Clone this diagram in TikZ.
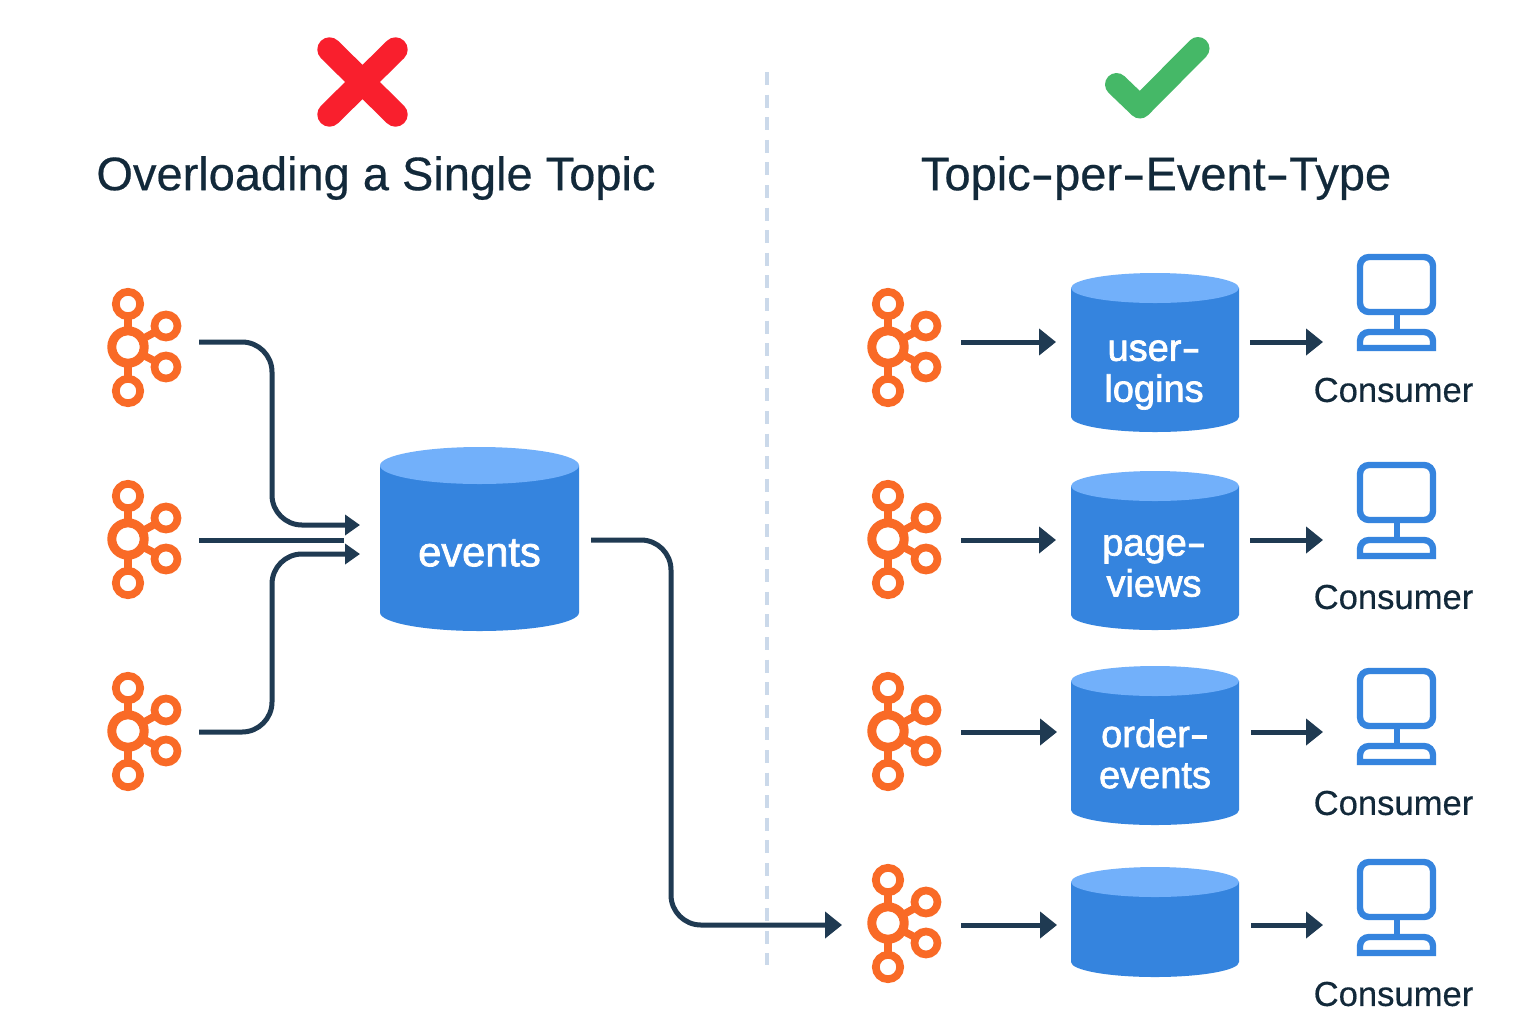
\documentclass[tikz,border=0pt]{standalone}
\usepackage{fontspec}
\usepackage{graphicx}
\setmainfont{Liberation Sans}
\newfontfamily\titlefont[FakeBold=0.4]{Liberation Sans}
\newfontfamily\labelfont[FakeBold=0.4]{Liberation Sans}
\newfontfamily\cylfont[FakeBold=1.8]{Liberation Sans}
\usetikzlibrary{arrows.meta}
\definecolor{korange}{HTML}{F96A26}
\definecolor{cylbody}{HTML}{3584DE}
\definecolor{cyltop}{HTML}{72B0FA}
\definecolor{flowc}{HTML}{1F3A52}
\definecolor{inkc}{HTML}{12293A}
\definecolor{dividerc}{HTML}{CBD9EA}
\definecolor{crossc}{HTML}{F91F2D}
\definecolor{checkc}{HTML}{45B867}
\newcommand{\wh}{\scalebox{1.5}[1]{-}}
\tikzset{
  x=0.5pt,y=-0.5pt,
  iconbox/.style={minimum width=37pt,minimum height=58pt,inner sep=0pt,outer sep=0pt},
  monbox/.style={minimum width=39.5pt,minimum height=48.5pt,inner sep=0pt,outer sep=0pt},
  cyllabel/.style={text=white,font=\cylfont\fontsize{19}{20.5}\selectfont,align=center,inner sep=0pt,outer sep=0pt},
  title/.style={text=inkc,font=\titlefont\fontsize{23.5}{26}\selectfont,inner sep=0pt},
  consumerlabel/.style={text=inkc,font=\labelfont\fontsize{17.3}{18}\selectfont,inner sep=0pt},
  conn/.style={draw=flowc,line width=2.5pt},
  smallflow/.style={conn,-{Triangle[length=7.5pt,width=10pt]}},
  bigflow/.style={conn,-{Triangle[length=8.5pt,width=13pt]}},
  kring/.style={draw=korange,line width=3.85pt,fill=none},
  kbar/.style={draw=korange,line width=3.8pt},
}
% icon centre x, icon centre y, node name, row y
\newcommand{\kafkaicon}[4]{%
  \begin{scope}[shift={(#1,#2)}]
    \draw[kbar] (0,0) -- (0,-43) (0,0) -- (0,44) (0,0) -- (38,-21) (0,0) -- (38,20);
    \fill[white] (0,0) circle[radius=12];
    \draw[draw=korange,line width=4.5pt] (0,0) circle[radius=16.2];
    \foreach \px/\py/\r in {0/-43/12.2,0/44/12.2,38/-21/11.5,38/20/11.5}{
      \fill[white] (\px,\py) circle[radius=9];
      \draw[kring] (\px,\py) circle[radius=\r];
    }
  \end{scope}
  \node[iconbox] (#3) at ({#1+17},#4) {};
}
% centre x, half width, top y, ry, bottom y
\newcommand{\cyl}[5]{%
  \fill[cylbody] ({#1-#2},{#3+#4}) -- ({#1-#2},{#5-#4})
    arc[start angle=180,end angle=360,x radius=#2,y radius=-#4]
    -- ({#1+#2},{#3+#4}) -- cycle;
  \fill[cyltop] (#1,{#3+#4}) ellipse[x radius=#2,y radius=#4];
}
% name, left x, top y
\newcommand{\monitor}[3]{%
  \begin{scope}[shift={(#2,#3)}]
    \draw[draw=cylbody,line width=3.2pt,rounded corners=4.5pt] (3,3) rectangle (76,58);
    \draw[draw=cylbody,line width=3pt] (39.5,61) -- (39.5,76);
    \draw[draw=cylbody,line width=3.2pt,line join=miter]
      (3,94) -- (3,87) arc[start angle=180,end angle=90,x radius=9,y radius=-9]
      -- (67,78) arc[start angle=90,end angle=0,x radius=9,y radius=-9] -- (76,94) -- cycle;
  \end{scope}
  \node[monbox] (#1) at ({#2+39.5},{#3+48.5}) {};
}
\begin{document}
\begin{tikzpicture}
\useasboundingbox (0,0) rectangle (1536,1024);
\fill[white] (0,0) rectangle (1536,1024);

% divider
\coordinate (divtop) at (767,72);
\coordinate (divbot) at (767,965);
\draw[dividerc,line width=1.8pt,dash pattern=on 6.5pt off 4.8pt] (divtop) -- (divbot);

% header marks
\draw[crossc,line width=12.2pt,line cap=round]
  (329.5,49.5) -- (395.5,114.5) (395.5,49.5) -- (329.5,114.5);
\draw[checkc,line width=11.5pt,line cap=round,line join=round]
  (1116.5,84.5) -- (1140,107) -- (1198,48.5);

\node[title] (tleft) at (376,178) {Overloading a Single Topic};
\node[title] (tright) at (1156,178) {Topic\wh per\wh Event\wh Type};

% left: producers
\kafkaicon{128}{347}{k1}{342}
\kafkaicon{128}{539}{k2}{540}
\kafkaicon{128}{731}{k3}{732}

% events topic
\cyl{479.5}{99.5}{447}{18.5}{631}
\node[cyllabel,font=\cylfont\fontsize{20.8}{22}\selectfont,minimum width=99.5pt] (ev) at (479.5,553) {events};

% right: producers
\kafkaicon{888}{347}{k4}{342}
\kafkaicon{888}{539}{k5}{540}
\kafkaicon{888}{731}{k6}{732}
\kafkaicon{888}{923}{k7}{925}

% right: topics
\cyl{1155}{84}{273}{15}{432}
\node[cyllabel,minimum width=84pt] (c1) at (1154,375) {user\wh\\logins};
\cyl{1155}{84}{471}{15}{630}
\node[cyllabel,minimum width=84pt] (c2) at (1154,566) {page\wh\\views};
\cyl{1155}{84}{666}{15}{825}
\node[cyllabel,minimum width=84pt] (c3) at (1155,754) {order\wh\\events};
\cyl{1155}{84}{867}{15}{977}
\node[cyllabel,minimum width=84pt] (c4) at (1155,925) {};

% consumers
\monitor{m1}{1357}{254}
\monitor{m2}{1357}{462}
\monitor{m3}{1357}{668}
\monitor{m4}{1357}{859}
\node[consumerlabel] (l1) at (1393.5,390) {Consumer};
\node[consumerlabel] (l2) at (1393.5,597) {Consumer};
\node[consumerlabel] (l3) at (1393.5,803) {Consumer};
\node[consumerlabel] (l4) at (1393.5,994) {Consumer};

% left connectors
\draw[smallflow,rounded corners=15pt,shorten <=8.5pt,shorten >=10pt]
  (k1.east) -- (272,342) -- (272,525) -- ([yshift=14pt]ev.west);
\draw[conn,shorten <=8.5pt,shorten >=18pt] (k2.east) -- ([yshift=6.5pt]ev.west);
\draw[smallflow,rounded corners=15pt,shorten <=8.5pt,shorten >=10pt]
  (k3.east) -- (272,732) -- (272,554) -- ([yshift=-0.5pt]ev.west);
\draw[bigflow,rounded corners=15pt,shorten <=6pt,shorten >=13pt]
  ([yshift=6.5pt]ev.east) -- (671,540) -- (671,925) -- (k7.west);

% right connectors
\foreach \k/\c/\m in {k4/c1/m1,k5/c2/m2,k6/c3/m3,k7/c4/m4}{
  \draw[bigflow,shorten <=9.5pt,shorten >=7pt] (\k.east) -- (\c.west |- \k.east);
  \draw[bigflow,shorten <=6pt,shorten >=17pt] (\c.east |- \k.east) -- (\m.west |- \k.east);
}
\end{tikzpicture}
\end{document}
